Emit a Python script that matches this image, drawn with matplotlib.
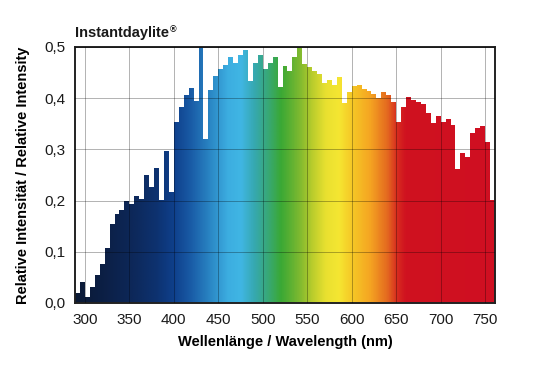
import numpy as np
import matplotlib
matplotlib.use("Agg")
import matplotlib.pyplot as plt
from matplotlib.colors import LinearSegmentedColormap, Normalize
from matplotlib.path import Path
from matplotlib.ticker import FuncFormatter

plt.rcParams['font.family'] = ['Liberation Sans', 'DejaVu Sans']

### DATA
# relative intensity per wavelength band, left to right (85 bands)
intensity = [
    0.020, 0.041, 0.012, 0.032, 0.054, 0.076, 0.108, 0.155, 0.174, 0.182,
    0.199, 0.193, 0.209, 0.203, 0.250, 0.227, 0.263, 0.201, 0.297, 0.217,
    0.353, 0.383, 0.407, 0.420, 0.394, 0.500, 0.321, 0.416, 0.443, 0.458,
    0.464, 0.480, 0.468, 0.484, 0.494, 0.434, 0.468, 0.484, 0.458, 0.469,
    0.480, 0.422, 0.462, 0.453, 0.480, 0.500, 0.466, 0.461, 0.453, 0.448,
    0.430, 0.435, 0.426, 0.442, 0.390, 0.412, 0.424, 0.425, 0.417, 0.414,
    0.408, 0.400, 0.412, 0.406, 0.393, 0.354, 0.382, 0.403, 0.397, 0.393,
    0.388, 0.372, 0.351, 0.365, 0.354, 0.359, 0.347, 0.262, 0.292, 0.286,
    0.333, 0.341, 0.346, 0.315, 0.201,
]
bandWidth = 50 / 9  # nm
wlMin = 300 - 2 * bandWidth
wlMax = 750 + 2 * bandWidth
bandLeft = np.linspace(wlMin, wlMax - bandWidth, len(intensity))

xTicks = [300, 350, 400, 450, 500, 550, 600, 650, 700, 750]
yTicks = [0.0, 0.1, 0.2, 0.3, 0.4, 0.5]

titleLabel = "Instantdaylite"
xLabel = "Wellenlänge / Wavelength (nm)"
yLabel = "Relative Intensität / Relative Intensity"

# colour of the spectrum along the wavelength axis
spectrumNm = [289, 320, 350, 380, 400, 420, 440, 460, 475, 490, 505, 520,
              540, 555, 570, 585, 600, 620, 640, 650, 660, 761]
spectrumColors = ['#0b1a35', '#0c1f45', '#0d2757', '#0d3270', '#0f408c',
                  '#1a5ea8', '#2a86c4', '#3cade0', '#40b6e4', '#36a8b0',
                  '#38a878', '#3aa835', '#7ab830', '#b8cc2c', '#e8e030',
                  '#f5e632', '#f6c826', '#f5a622', '#e4691f', '#d83020',
                  '#d0121f', '#cf0f22']


def main():
    fig = plt.figure(figsize=(5.42, 3.80), dpi=100)
    ax = fig.add_axes([75 / 542, 77 / 380, 420 / 542, 256 / 380])

    # bars are only used as the shape, the colour comes from the gradient
    bars = ax.bar(bandLeft, intensity, width=bandWidth, align='edge',
                  color='none', edgecolor='none')

    pos = [(nm - wlMin) / (wlMax - wlMin) for nm in spectrumNm]
    pos[0], pos[-1] = 0.0, 1.0
    cmap = LinearSegmentedColormap.from_list("spectrum", list(zip(pos, spectrumColors)))
    gradient = np.linspace(wlMin, wlMax, 1000).reshape(1, -1)
    im = ax.imshow(gradient, extent=[wlMin, wlMax, 0, 0.5], aspect='auto',
                   cmap=cmap, norm=Normalize(wlMin, wlMax), origin='lower',
                   interpolation='bilinear', zorder=1)
    barPaths = [b.get_patch_transform().transform_path(b.get_path()) for b in bars]
    im.set_clip_path(Path.make_compound_path(*barPaths), ax.transData)

    ax.set_xlim(wlMin, wlMax)
    ax.set_ylim(0, 0.5)
    ax.set_xticks(xTicks)
    ax.set_yticks(yTicks)
    ax.yaxis.set_major_formatter(FuncFormatter(lambda v, _: f"{v:.1f}".replace('.', ',')))
    ax.tick_params(length=0, labelsize=11, pad=7, colors='#1a1a1a')

    ax.set_axisbelow(False)
    ax.grid(True, color='black', alpha=0.3, linewidth=0.7)
    for spine in ax.spines.values():
        spine.set_linewidth(1.4)
        spine.set_color('#222222')

    ax.set_xlabel(xLabel, fontsize=10.5, fontweight='bold', labelpad=6)
    ax.set_ylabel(yLabel, fontsize=10.5, fontweight='bold', labelpad=10)

    title = fig.text(75 / 542, 1 - 36.5 / 380, titleLabel, fontsize=10.5,
                     fontweight='bold', va='baseline', color='#1a1a1a')
    ax.annotate("®", xy=(1, 1), xycoords=title, xytext=(0.5, 0),
                textcoords='offset points', fontsize=6.5, fontweight='bold',
                va='top', ha='left', color='#1a1a1a')

    fig.savefig("out.png", dpi=100)


if __name__ == "__main__":
    main()
